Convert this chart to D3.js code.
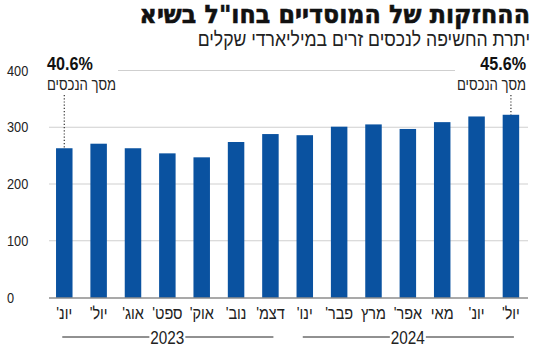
<!DOCTYPE html>
<html><head><meta charset="utf-8">
<script src="https://cdn.jsdelivr.net/npm/d3@7"></script>
<style>
html,body{margin:0;padding:0;background:#fff;}
svg{display:block;}
text{font-family:"Liberation Sans","DejaVu Sans",sans-serif;}
</style></head>
<body>
<svg id="c" width="550" height="357"></svg>
<script>
const months = ["יונ'","יול'","אוג'","ספט'","אוק'","נוב'","דצמ'","ינו'","פבר'","מרץ","אפר'","מאי","יונ'","יול'"];
const keys = d3.range(months.length);
const values = [263, 271, 263, 254, 247, 274, 288, 286, 301, 305, 297, 309, 319, 322];
const yTicks = [0, 100, 200, 300, 400];
const years = [{label:"2023", from:0, to:6},{label:"2024", from:7, to:13}];
const notes = [{idx:0, pct:"40.6%", text:"מסך הנכסים", anchor:"start"},{idx:13, pct:"45.6%", text:"מסך הנכסים", anchor:"end"}];
const title = "ההחזקות של המוסדיים בחו\"ל בשיא";
const subtitle = "יתרת החשיפה לנכסים זרים במיליארדי שקלים";

const svg = d3.select("#c");
const x = d3.scaleBand().domain(keys).range([47.1, 528.1]).paddingInner(0.52).paddingOuter(0.26);
const y = d3.scaleLinear().domain([0, 400]).range([297.5, 70.5]);
const blue = "#0a52a0";

// condensed text helper
function ctext(parent, px, py, sx, str, opts) {
  const g = parent.append("g").attr("transform", `translate(${px},${py}) scale(${sx},1)`);
  const t = g.append("text").attr("x", 0).attr("y", 0).text(str);
  Object.entries(opts || {}).forEach(([k, v]) => {
    if (k.startsWith("s:")) t.style(k.slice(2), v); else t.attr(k, v);
  });
  return t;
}

// title
ctext(svg, 530, 23, 0.95, title, {"text-anchor":"start", direction:"rtl", "s:font-family":"'DejaVu Sans',sans-serif", "s:font-weight":"900", "font-size":"25px", fill:"#111", stroke:"#111", "stroke-width":0.6});
ctext(svg, 530, 46, 0.88, subtitle, {"text-anchor":"start", direction:"rtl", "font-size":"20px", fill:"#222"});

// grid
const grid = svg.append("g");
yTicks.filter(t => t > 0 && t < 400).forEach(t => {
  grid.append("line").attr("x1", 49).attr("x2", 528).attr("y1", y(t)).attr("y2", y(t))
    .attr("stroke","#cfcfcf").attr("stroke-width",1);
});
grid.append("line").attr("x1", 118).attr("x2", 455).attr("y1", y(400)).attr("y2", y(400))
  .attr("stroke","#cfcfcf").attr("stroke-width",1);

// y labels
yTicks.forEach(d => ctext(svg, 7, y(d) + 5, 0.85, d, {"font-size":"15px", fill:"#222"}));

// bars
svg.append("g").selectAll("rect").data(keys).join("rect")
  .attr("x", d => x(d)).attr("width", x.bandwidth())
  .attr("y", d => y(values[d])).attr("height", d => y(0) - y(values[d]))
  .attr("fill", blue);

// baseline axis
svg.append("line").attr("x1", 49).attr("x2", 528).attr("y1", y(0)+0.5).attr("y2", y(0)+0.5)
  .attr("stroke","#555").attr("stroke-width",1.2);

// x labels
keys.forEach(d => ctext(svg, x(d) + x.bandwidth()/2, 319, 0.85, months[d], {"text-anchor":"middle", direction:"rtl", "font-size":"17px", fill:"#222"}));

// years
years.forEach(yr => {
  const a = x(yr.from) + x.bandwidth()/2, b = x(yr.to) + x.bandwidth()/2, m = (a+b)/2;
  svg.append("line").attr("x1", a - 2).attr("x2", m - 18).attr("y1", 337).attr("y2", 337).attr("stroke","#222").attr("stroke-width",1);
  svg.append("line").attr("x1", m + 18).attr("x2", b + 3).attr("y1", 337).attr("y2", 337).attr("stroke","#222").attr("stroke-width",1);
  ctext(svg, m, 344, 0.85, yr.label, {"text-anchor":"middle", "font-size":"18px", fill:"#222"});
});

// annotations
notes.forEach(n => {
  const cx = x(n.idx) + x.bandwidth()/2;
  const tx = n.anchor === "start" ? 47 : 526;
  ctext(svg, tx, 70, 0.85, n.pct, {"text-anchor": n.anchor, "s:font-weight":"bold", "font-size":"19px", fill:"#111"});
  ctext(svg, n.anchor === "start" ? 116 : 526, 90, 0.82, n.text, {"text-anchor":"start", direction:"rtl", "font-size":"16px", fill:"#222"});
  svg.append("line").attr("x1", cx).attr("x2", cx).attr("y1", 95).attr("y2", y(values[n.idx]))
    .attr("stroke","#333").attr("stroke-width",1.2).attr("stroke-dasharray","1.2,2");
});
</script>
</body></html>
